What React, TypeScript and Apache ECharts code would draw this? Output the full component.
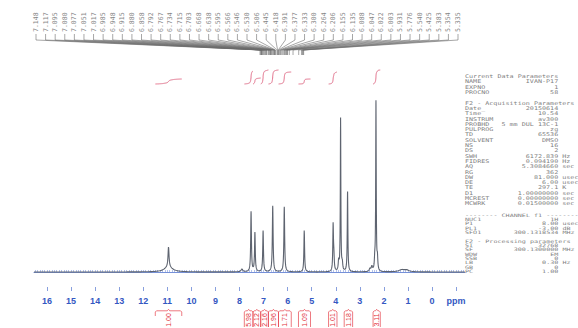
import React, { useEffect, useRef } from 'react';
import * as echarts from 'echarts';

// ---- spectrum peaks (ppm, relative height, half-width in ppm) ----
const peakPpm = [10.95, 10.95, 7.9, 7.52, 7.36, 7.02, 6.62, 6.14, 5.31, 4.11, 4.08, 3.88, 3.8, 3.73, 3.51, 2.58, 2.5, 2.38, 2.33, 2.27, 1.25, 1.05];
const peakHeight = [11.5, 2.9, 1.7, 34.5, 22.4, 23.6, 37.9, 37.4, 24.1, 25.9, 8, 5.7, 87.9, 4.6, 46, 1.7, 2.9, 5.7, 97, 6.9, 1.2, 0.9];
const peakWidth = [0.025, 0.2, 0.04, 0.018, 0.018, 0.018, 0.019, 0.019, 0.017, 0.016, 0.02, 0.02, 0.013, 0.02, 0.015, 0.03, 0.03, 0.02, 0.013, 0.02, 0.15, 0.12];

// ---- peak-pick labels (top fan) ----
const fanLabels = ['7.148', '7.117', '7.095', '7.080', '7.077', '7.051', '7.017', '6.985', '6.948', '6.915', '6.880', '6.858', '6.792', '6.767', '6.734', '6.715', '6.703', '6.668', '6.638', '6.595', '6.566', '6.546', '6.530', '6.506', '6.445', '6.418', '6.391', '6.377', '6.333', '6.300', '6.264', '6.206', '6.155', '6.135', '6.088', '6.047', '6.022', '6.003', '5.931', '5.776', '5.540', '5.425', '5.383', '5.354', '5.335'];

// ---- integrals ----
const integralFrom = [11.5, 7.8, 7.44, 7.12, 6.8, 6.38, 5.55, 4.3, 3.65, 2.45];
const integralTo = [10.4, 7.44, 7.12, 6.8, 6.38, 5.85, 5.05, 3.95, 3.3, 2.15];
const integralValues = ['1.00', '5.98', '2.12', '2.16', '1.96', '1.71', '1.09', '1.01', '1.18', '3.11'];
const integralRise = [5, 13, 6, 14, 14, 12, 5, 12, 0, 14];

// ---- axis ----
const axisLabels = [16, 15, 14, 13, 12, 11, 10, 9, 8, 7, 6, 5, 4, 3, 2, 1, 0, -1];
const X_MIN = -1.37;
const X_MAX = 16.54;
const Y_MIN = -10.92;
const Y_MAX = 100;

// ---- parameter text ----
const paramBlockA: [string, string, string][] = [
  ['#Current Data Parameters', '', ''],
  ['NAME', 'IVAN-P17', ''],
  ['EXPNO', '1', ''],
  ['PROCNO', '58', ''],
  ['#', '', ''],
  ['#F2 - Acquisition Parameters', '', ''],
  ['Date_', '20150614', ''],
  ['Time', '10.54', ''],
  ['INSTRUM', 'av300', ''],
  ['PROBHD', '5 mm DUL 13C-1', ''],
  ['PULPROG', 'zg', ''],
  ['TD', '65536', ''],
  ['SOLVENT', 'DMSO', ''],
  ['NS', '16', ''],
  ['DS', '2', ''],
  ['SWH', '6172.839', 'Hz'],
  ['FIDRES', '0.094190', 'Hz'],
  ['AQ', '5.3084660', 'sec'],
  ['RG', '362', ''],
  ['DW', '81.000', 'usec'],
  ['DE', '6.00', 'usec'],
  ['TE', '297.1', 'K'],
  ['D1', '1.00000000', 'sec'],
  ['MCREST', '0.00000000', 'sec'],
  ['MCWRK', '0.01500000', 'sec'],
];
const paramBlockB: [string, string, string][] = [
  ['#-------- CHANNEL f1 --------', '', ''],
  ['NUC1', '1H', ''],
  ['P1', '8.00', 'usec'],
  ['PL1', '-3.00', 'dB'],
  ['SFO1', '300.1318534', 'MHz'],
  ['#', '', ''],
  ['#F2 - Processing parameters', '', ''],
  ['SI', '32768', ''],
  ['SF', '300.1300000', 'MHz'],
  ['WDW', 'EM', ''],
  ['SSB', '0', ''],
  ['LB', '0.30', 'Hz'],
  ['GB', '0', ''],
  ['PC', '1.00', ''],
];

function fmtBlock(rows: [string, string, string][]) {
  return rows
    .map(([l, v, u]) => {
      if (l.startsWith('#')) return l.slice(1) || ' ';
      return l.padEnd(8) + v.padStart(15) + (u ? ' ' + u : '');
    })
    .join('\n');
}

function intensity(x: number) {
  let s = 0;
  for (let i = 0; i < peakPpm.length; i++) {
    const d = (x - peakPpm[i]) / peakWidth[i];
    s += peakHeight[i] / (1 + d * d);
  }
  return s;
}

function buildSpectrum() {
  const xs: number[] = [];
  const step = 0.004;
  for (let x = X_MAX; x >= X_MIN; x -= step) xs.push(x);
  peakPpm.forEach((p) => xs.push(p));
  xs.sort((a, b) => b - a);
  return xs.map((x) => [x, intensity(x)]);
}

const spectrum = buildSpectrum();

const minorTicks: number[] = [];
for (let k = -13; k <= 165; k++) minorTicks.push(k / 10);
const majorTicks = axisLabels.slice();

const FAN_LEFT = 36;
const FAN_RIGHT = 458;

function buildOption(): any {
  return {
    animation: false,
    backgroundColor: '#ffffff',
    grid: { left: 34, right: 113, top: 98, bottom: 37, containLabel: false },
    xAxis: [
      {
        type: 'value',
        min: X_MIN,
        max: X_MAX,
        inverse: true,
        splitLine: { show: false },
        axisLine: { show: true, lineStyle: { color: '#7590d8', width: 1 } },
        axisTick: { show: true, inside: true, length: 2, customValues: minorTicks, lineStyle: { color: '#7f98dc', width: 0.6 } },
        axisLabel: {
          show: true,
          customValues: axisLabels,
          formatter: (v: number) => (Math.round(v) === -1 ? 'ppm' : String(Math.round(v))),
          color: '#3458c2',
          fontWeight: 'bold',
          fontSize: 9,
          fontFamily: 'Liberation Sans',
          margin: 5,
        },
      },
      {
        type: 'value',
        min: X_MIN,
        max: X_MAX,
        inverse: true,
        position: 'bottom',
        splitLine: { show: false },
        axisLine: { show: false },
        axisTick: { show: true, inside: true, length: 4, customValues: majorTicks, lineStyle: { color: '#6a86d4', width: 0.8 } },
        axisLabel: { show: false },
      },
    ],
    yAxis: { type: 'value', min: Y_MIN, max: Y_MAX, show: false, splitLine: { show: false } },
    graphic: [
      {
        type: 'text',
        x: 465,
        y: 73.4,
        scaleX: 1.35,
        style: {
          text: fmtBlock(paramBlockA),
          fontFamily: 'DejaVu Sans Mono',
          fontSize: 5,
          lineHeight: 5.3,
          fill: '#808080',
          align: 'left',
          verticalAlign: 'top',
        },
      },
      {
        type: 'text',
        x: 465,
        y: 212.8,
        scaleX: 1.47,
        style: {
          text: fmtBlock(paramBlockB),
          fontFamily: 'DejaVu Sans Mono',
          fontSize: 4.6,
          lineHeight: 4.35,
          fill: '#808080',
          align: 'left',
          verticalAlign: 'top',
        },
      },
    ],
    series: [
      {
        type: 'line',
        name: 'spectrum',
        data: spectrum,
        showSymbol: false,
        symbol: 'none',
        lineStyle: { color: '#5e6470', width: 1.1 },
        silent: true,
        z: 3,
      },
      {
        type: 'custom',
        name: 'peaks',
        clip: false,
        silent: true,
        data: fanLabels.map((s) => [parseFloat(s), 0]),
        renderItem: (params: any, api: any) => {
          const i = params.dataIndex;
          const n = fanLabels.length;
          const topX = FAN_LEFT + ((FAN_RIGHT - FAN_LEFT) * i) / (n - 1);
          const botX = api.coord([api.value(0), 0])[0];
          return {
            type: 'group',
            children: [
              {
                type: 'text',
                x: topX,
                y: 32,
                rotation: Math.PI / 2,
                style: {
                  text: fanLabels[i],
                  fontSize: 6.5,
                  fontFamily: 'DejaVu Sans Mono',
                  fill: '#858585',
                  align: 'left',
                  verticalAlign: 'middle',
                },
              },
              {
                type: 'polyline',
                shape: { points: [[topX, 34], [topX, 40], [botX, 50], [botX, 55]] },
                style: { stroke: '#6b6b6b', lineWidth: 0.6, fill: 'none' },
              },
            ],
          };
        },
      },
      {
        type: 'custom',
        name: 'integralCurves',
        clip: false,
        silent: true,
        data: integralFrom.map((f, i) => [(f + integralTo[i]) / 2, 0, f, integralTo[i]]),
        renderItem: (params: any, api: any) => {
          const i = params.dataIndex;
          const from = api.value(2);
          const to = api.value(3);
          const rise = integralRise[i];
          if (!rise) return { type: 'group', children: [] };
          const pts = spectrum.filter((p) => p[0] <= from && p[0] >= to);
          let total = 0;
          pts.forEach((p) => (total += Math.max(p[1], 0)));
          let cum = 0;
          const baseY = 84;
          const points = pts.map((p) => {
            cum += Math.max(p[1], 0);
            return [api.coord([p[0], 0])[0], baseY - (rise * cum) / total];
          });
          return {
            type: 'polyline',
            shape: { points },
            style: { stroke: '#e26a86', lineWidth: 1, fill: 'none' },
          };
        },
      },
      {
        type: 'custom',
        name: 'integralLabels',
        clip: false,
        silent: true,
        data: integralFrom.map((f, i) => [(f + integralTo[i]) / 2, 0, f, integralTo[i]]),
        renderItem: (params: any, api: any) => {
          const i = params.dataIndex;
          const x1 = api.coord([api.value(2), 0])[0];
          const x2 = api.coord([api.value(3), 0])[0];
          const xc = (x1 + x2) / 2;
          const wide = x2 - x1 > 15;
          const endY = wide ? 316 : 327;
          return {
            type: 'group',
            children: [
              {
                type: 'polyline',
                shape: {
                  points: [
                    [x1, endY],
                    [x1, 312],
                    [x1 + 1.2, 310.8],
                    [xc - 1.2, 310.8],
                    [xc, 309.3],
                    [xc + 1.2, 310.8],
                    [x2 - 1.2, 310.8],
                    [x2, 312],
                    [x2, endY],
                  ],
                },
                style: { stroke: '#e5414a', lineWidth: 0.7, fill: 'none' },
              },
              {
                type: 'text',
                x: xc,
                y: 320,
                rotation: Math.PI / 2,
                style: {
                  text: integralValues[i],
                  fontSize: 7,
                  fontFamily: 'Liberation Sans',
                  fill: '#e2333d',
                  align: 'center',
                  verticalAlign: 'middle',
                },
              },
            ],
          };
        },
      },
    ],
  };
}

export default function App() {
  const ref = useRef<HTMLDivElement>(null);
  useEffect(() => {
    if (!ref.current) return;
    const chart = echarts.init(ref.current, null, { renderer: 'svg' });
    chart.setOption(buildOption());
    return () => chart.dispose();
  }, []);
  return (
    <div
      ref={ref}
      style={{ position: 'fixed', left: 0, top: 0, width: 578, height: 328, background: '#ffffff' }}
    />
  );
}
